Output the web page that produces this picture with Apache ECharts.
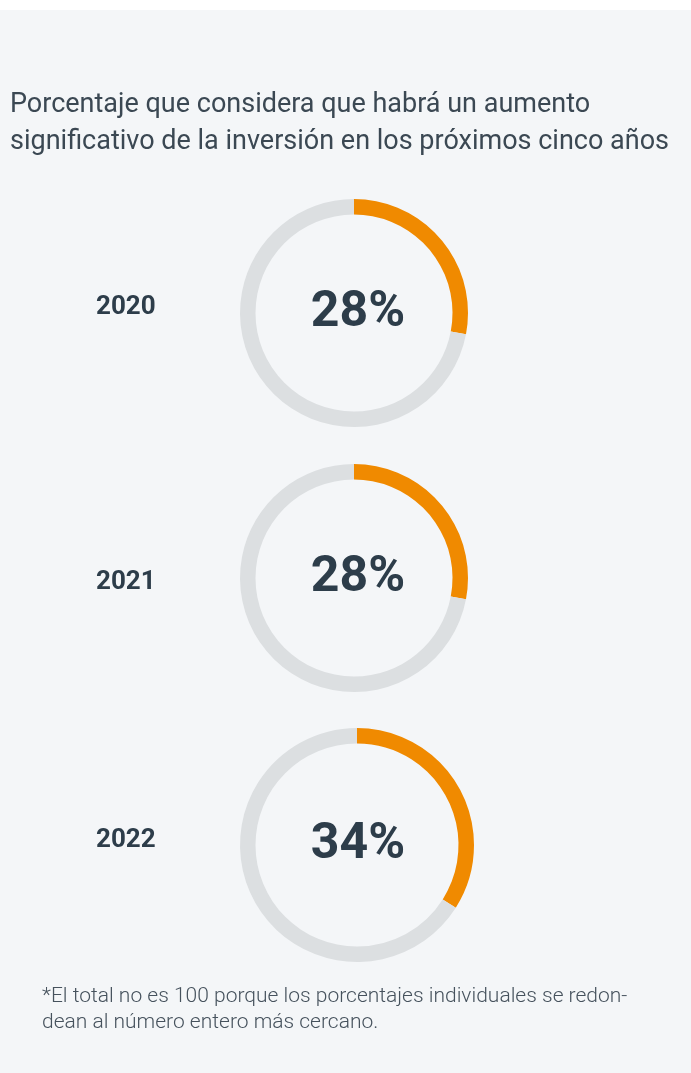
<!DOCTYPE html>
<html>
<head>
<meta charset="utf-8">
<script src="https://cdn.jsdelivr.net/npm/echarts@6/dist/echarts.min.js"></script>
<style>
  html, body { margin: 0; padding: 0; background: #f4f6f8; }
  #chart { width: 691px; height: 1073px; }
</style>
</head>
<body>
<div id="chart"></div>
<script>
// Share expecting a significant investment increase, by survey year
const years = ['2020', '2021', '2022'];
const shares = [28, 28, 34];
const headline = 'Porcentaje que considera que habrá un aumento\nsignificativo de la inversión en los próximos cinco años';
const footnote = '*El total no es 100 porque los porcentajes individuales se redon-\ndean al número entero más cercano.';

// ring layout: [centerX, centerY, outer radius, label nudge x]
const rings = [[354, 313, 114, 4], [354, 578, 114, 4], [357, 845, 117, 1]];
const yearLabelY = [294, 569, 827];

const ORANGE = '#f08a00';
const TRACK = '#dcdfe1';
const INK = '#2d3d4a';

const chart = echarts.init(document.getElementById('chart'), null, { renderer: 'canvas' });

const titles = [
  {
    text: headline,
    left: 10, top: 87, padding: 0,
    textStyle: { fontFamily: 'Roboto', fontSize: 27, fontWeight: 'normal', color: '#3b4853', lineHeight: 37 }
  },
  {
    text: footnote,
    left: 42, top: 984, padding: 0,
    textStyle: { fontFamily: 'Roboto', fontSize: 21, fontWeight: 300, color: '#46525d', lineHeight: 26 }
  }
];
years.forEach((y, i) => {
  titles.push({
    text: y, left: 96, top: yearLabelY[i], padding: 0,
    textStyle: { fontFamily: 'Roboto', fontSize: 26, fontWeight: 'bold', color: INK }
  });
});

const series = shares.map((v, i) => {
  const [cx, cy, r, nudge] = rings[i];
  return {
    type: 'pie',
    center: [cx, cy],
    radius: [r - 15.5, r],
    startAngle: 90,
    clockwise: true,
    silent: true,
    avoidLabelOverlap: false,
    labelLine: { show: false },
    emphasis: { disabled: true },
    data: [
      {
        value: v, name: years[i],
        itemStyle: { color: ORANGE },
        label: {
          show: true, position: 'center',
          formatter: '{c}%', offset: [nudge, 0],
          fontFamily: 'Roboto', fontSize: 50, fontWeight: 'bold', color: INK
        }
      },
      { value: 100 - v, name: 'resto', itemStyle: { color: TRACK }, label: { show: false } }
    ]
  };
});

chart.setOption({
  backgroundColor: '#f4f6f8',
  animation: false,
  title: titles,
  graphic: [
    { type: 'rect', shape: { x: 0, y: 0, width: 691, height: 10 }, style: { fill: '#ffffff' }, z: -1 }
  ],
  series: series
});
</script>
</body>
</html>
